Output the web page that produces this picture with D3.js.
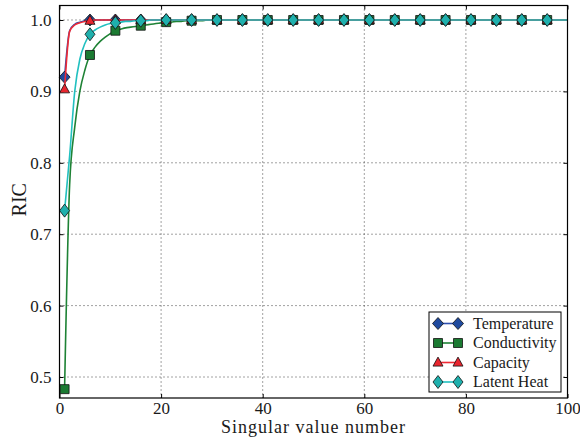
<!DOCTYPE html>
<html>
<head>
<meta charset="utf-8">
<script src="https://cdn.jsdelivr.net/npm/d3@7"></script>
<style>
  body { margin: 0; background: #fff; }
  svg { display: block; }
  text { font-family: "Liberation Serif", "DejaVu Serif", serif; fill: #1a1a1a; }
</style>
</head>
<body>
<div id="chart"></div>
<script>
// singular value number 1..100
var svNumbers = d3.range(1, 101);

var temperature = [
  0.920, 0.985, 0.994, 0.997, 0.999, 1.000, 1.000, 1.000, 1.000, 1.000,
  1.000, 1.000, 1.000, 1.000, 1.000, 1.000, 1.000, 1.000, 1.000, 1.000,
  1.000, 1.000, 1.000, 1.000, 1.000, 1.000, 1.000, 1.000, 1.000, 1.000,
  1.000, 1.000, 1.000, 1.000, 1.000, 1.000, 1.000, 1.000, 1.000, 1.000,
  1.000, 1.000, 1.000, 1.000, 1.000, 1.000, 1.000, 1.000, 1.000, 1.000,
  1.000, 1.000, 1.000, 1.000, 1.000, 1.000, 1.000, 1.000, 1.000, 1.000,
  1.000, 1.000, 1.000, 1.000, 1.000, 1.000, 1.000, 1.000, 1.000, 1.000,
  1.000, 1.000, 1.000, 1.000, 1.000, 1.000, 1.000, 1.000, 1.000, 1.000,
  1.000, 1.000, 1.000, 1.000, 1.000, 1.000, 1.000, 1.000, 1.000, 1.000,
  1.000, 1.000, 1.000, 1.000, 1.000, 1.000, 1.000, 1.000, 1.000, 1.000
];

var conductivity = [
  0.483, 0.770, 0.850, 0.900, 0.930, 0.951, 0.962, 0.970, 0.976, 0.981,
  0.985, 0.987, 0.989, 0.990, 0.991, 0.992, 0.993, 0.994, 0.995, 0.996,
  0.997, 0.997, 0.998, 0.998, 0.999, 0.999, 0.999, 0.999, 1.000, 1.000,
  1.000, 1.000, 1.000, 1.000, 1.000, 1.000, 1.000, 1.000, 1.000, 1.000,
  1.000, 1.000, 1.000, 1.000, 1.000, 1.000, 1.000, 1.000, 1.000, 1.000,
  1.000, 1.000, 1.000, 1.000, 1.000, 1.000, 1.000, 1.000, 1.000, 1.000,
  1.000, 1.000, 1.000, 1.000, 1.000, 1.000, 1.000, 1.000, 1.000, 1.000,
  1.000, 1.000, 1.000, 1.000, 1.000, 1.000, 1.000, 1.000, 1.000, 1.000,
  1.000, 1.000, 1.000, 1.000, 1.000, 1.000, 1.000, 1.000, 1.000, 1.000,
  1.000, 1.000, 1.000, 1.000, 1.000, 1.000, 1.000, 1.000, 1.000, 1.000
];

var capacity = [
  0.903, 0.984, 0.993, 0.996, 0.998, 0.999, 1.000, 1.000, 1.000, 1.000,
  1.000, 1.000, 1.000, 1.000, 1.000, 1.000, 1.000, 1.000, 1.000, 1.000,
  1.000, 1.000, 1.000, 1.000, 1.000, 1.000, 1.000, 1.000, 1.000, 1.000,
  1.000, 1.000, 1.000, 1.000, 1.000, 1.000, 1.000, 1.000, 1.000, 1.000,
  1.000, 1.000, 1.000, 1.000, 1.000, 1.000, 1.000, 1.000, 1.000, 1.000,
  1.000, 1.000, 1.000, 1.000, 1.000, 1.000, 1.000, 1.000, 1.000, 1.000,
  1.000, 1.000, 1.000, 1.000, 1.000, 1.000, 1.000, 1.000, 1.000, 1.000,
  1.000, 1.000, 1.000, 1.000, 1.000, 1.000, 1.000, 1.000, 1.000, 1.000,
  1.000, 1.000, 1.000, 1.000, 1.000, 1.000, 1.000, 1.000, 1.000, 1.000,
  1.000, 1.000, 1.000, 1.000, 1.000, 1.000, 1.000, 1.000, 1.000, 1.000
];

var latentHeat = [
  0.733, 0.810, 0.900, 0.945, 0.967, 0.980, 0.986, 0.990, 0.993, 0.995,
  0.996, 0.997, 0.998, 0.998, 0.999, 0.999, 0.999, 1.000, 1.000, 1.000,
  1.000, 1.000, 1.000, 1.000, 1.000, 1.000, 1.000, 1.000, 1.000, 1.000,
  1.000, 1.000, 1.000, 1.000, 1.000, 1.000, 1.000, 1.000, 1.000, 1.000,
  1.000, 1.000, 1.000, 1.000, 1.000, 1.000, 1.000, 1.000, 1.000, 1.000,
  1.000, 1.000, 1.000, 1.000, 1.000, 1.000, 1.000, 1.000, 1.000, 1.000,
  1.000, 1.000, 1.000, 1.000, 1.000, 1.000, 1.000, 1.000, 1.000, 1.000,
  1.000, 1.000, 1.000, 1.000, 1.000, 1.000, 1.000, 1.000, 1.000, 1.000,
  1.000, 1.000, 1.000, 1.000, 1.000, 1.000, 1.000, 1.000, 1.000, 1.000,
  1.000, 1.000, 1.000, 1.000, 1.000, 1.000, 1.000, 1.000, 1.000, 1.000
];

var seriesNames = ["Temperature", "Conductivity", "Capacity", "Latent Heat"];
var xTicks = [0, 20, 40, 60, 80, 100];
var yTicks = [0.5, 0.6, 0.7, 0.8, 0.9, 1.0];

var markEvery = 5;

var W = 580, H = 439;
var margin = { top: 5.5, right: 12.5, bottom: 41, left: 59.5 },
  width = W - margin.left - margin.right,
  height = H - margin.top - margin.bottom;

// custom marker shapes (sizes in px)
function diamond(w, h) {
  return "M0," + (-h / 2) + "L" + (w / 2) + ",0L0," + (h / 2) + "L" + (-w / 2) + ",0Z";
}
function square(s) {
  return "M" + (-s / 2) + "," + (-s / 2) + "h" + s + "v" + s + "h" + (-s) + "Z";
}
function triangle(w, h) {
  return "M0," + (-h * 0.6) + "L" + (w / 2) + "," + (h * 0.4) + "L" + (-w / 2) + "," + (h * 0.4) + "Z";
}

var styles = [
  { values: temperature, line: "#2e4fae", fill: "#1f4a9e", shape: diamond(11, 12) },
  { values: conductivity, line: "#1e8235", fill: "#1b7a32", shape: square(9) },
  { values: capacity, line: "#ee2a35", fill: "#e8252e", shape: triangle(10, 9) },
  { values: latentHeat, line: "#22c0c0", fill: "#1fb0ad", shape: diamond(10, 13) }
];

var svg = d3.select("#chart")
  .append("svg")
  .attr("width", W)
  .attr("height", H);

var g = svg.append("g")
  .attr("transform", "translate(" + margin.left + "," + margin.top + ")");

var xScale = d3.scaleLinear().domain([0, 100]).range([0, width]);
var yScale = d3.scaleLinear().domain([0.4706, 1.0203]).range([height, 0]);

// grid (dotted)
g.append("g").selectAll("line.gx")
  .data(xTicks.slice(1, -1))
  .join("line")
  .attr("x1", d => xScale(d)).attr("x2", d => xScale(d))
  .attr("y1", 0).attr("y2", height)
  .attr("stroke", "#444").attr("stroke-width", 1)
  .attr("stroke-dasharray", "1,3");
g.append("g").selectAll("line.gy")
  .data(yTicks)
  .join("line")
  .attr("x1", 0).attr("x2", width)
  .attr("y1", d => yScale(d)).attr("y2", d => yScale(d))
  .attr("stroke", "#444").attr("stroke-width", 1)
  .attr("stroke-dasharray", "1,3");

// axes, ticks pointing inward on all sides
var xAxis = d3.axisBottom(xScale).tickValues(xTicks).tickSizeInner(-4).tickSizeOuter(0).tickPadding(4);
var xAxisTop = d3.axisTop(xScale).tickValues(xTicks).tickSizeInner(-4).tickSizeOuter(0).tickFormat("");
var yAxis = d3.axisLeft(yScale).tickValues(yTicks).tickSizeInner(-4).tickSizeOuter(0).tickPadding(8).tickFormat(d3.format(".1f"));
var yAxisRight = d3.axisRight(yScale).tickValues(yTicks).tickSizeInner(-4).tickSizeOuter(0).tickFormat("");

g.append("g").attr("class", "axis").attr("transform", "translate(0," + height + ")").call(xAxis);
g.append("g").attr("class", "axis").call(xAxisTop);
g.append("g").attr("class", "axis").call(yAxis);
g.append("g").attr("class", "axis").attr("transform", "translate(" + width + ",0)").call(yAxisRight);

g.selectAll(".axis path").remove();
g.selectAll(".axis line").attr("stroke", "#000").attr("stroke-width", 1);
g.selectAll(".axis text")
  .style("font-family", "'Liberation Serif', serif")
  .style("font-size", "17px")
  .attr("fill", "#222");

var line = d3.line()
  .x((d, i) => xScale(svNumbers[i]))
  .y(d => yScale(d))
  .curve(d3.curveMonotoneX);

var plot = g.append("g");

styles.forEach(function (s) {
  plot.append("path")
    .datum(s.values)
    .attr("fill", "none")
    .attr("stroke", s.line)
    .attr("stroke-width", 1.6)
    .attr("d", line);

  var marked = s.values.map((v, i) => [svNumbers[i], v]).filter((d, i) => i % markEvery == 0);
  plot.append("g").selectAll("path")
    .data(marked)
    .join("path")
    .attr("transform", d => "translate(" + xScale(d[0]) + "," + yScale(d[1]) + ")")
    .attr("d", s.shape)
    .attr("fill", s.fill)
    .attr("stroke", "#111")
    .attr("stroke-width", 0.8);
});

// frame
g.append("rect")
  .attr("x", 0).attr("y", 0)
  .attr("width", width).attr("height", height)
  .attr("fill", "none")
  .attr("stroke", "#000")
  .attr("stroke-width", 1.2);

// axis labels
svg.append("text")
  .attr("x", margin.left + width / 2)
  .attr("y", 433)
  .attr("text-anchor", "middle")
  .style("font-size", "18px")
  .style("letter-spacing", "1px")
  .text("Singular value number");

svg.append("text")
  .attr("transform", "translate(26," + (margin.top + height / 2 - 2) + ") rotate(-90)")
  .attr("text-anchor", "middle")
  .style("font-size", "20px")
  .text("RIC");

// legend
var legend = svg.append("g").attr("transform", "translate(429,312)");
legend.append("rect")
  .attr("x", 0).attr("y", 0)
  .attr("width", 132).attr("height", 80)
  .attr("fill", "#fff")
  .attr("stroke", "#000")
  .attr("stroke-width", 1);

var rows = legend.selectAll("g.row")
  .data(styles)
  .join("g")
  .attr("class", "row")
  .attr("transform", (d, i) => "translate(0," + (11.5 + i * 19.5) + ")");

rows.append("line")
  .attr("x1", 9).attr("x2", 29)
  .attr("y1", 0).attr("y2", 0)
  .attr("stroke", d => d.line)
  .attr("stroke-width", 1.6);
[9, 29].forEach(function (mx) {
  rows.append("path")
    .attr("transform", "translate(" + mx + ",0)")
    .attr("d", d => d.shape)
    .attr("fill", d => d.fill)
    .attr("stroke", "#111")
    .attr("stroke-width", 0.8);
});
rows.append("text")
  .attr("x", 44)
  .attr("y", 5)
  .style("font-size", "16px")
  .text((d, i) => seriesNames[i]);
</script>
</body>
</html>
